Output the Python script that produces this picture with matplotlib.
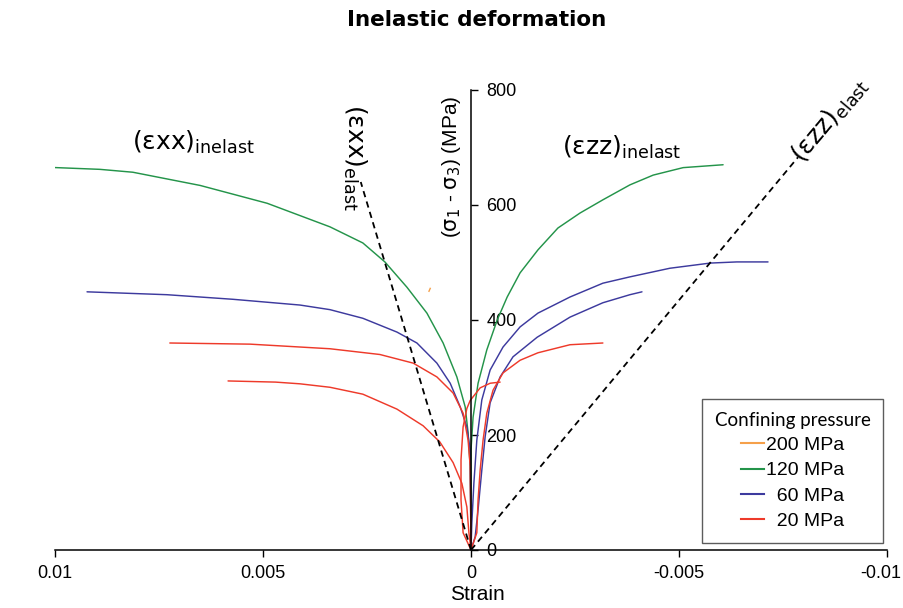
import matplotlib
matplotlib.use("Agg")
import matplotlib.pyplot as plt
from matplotlib.lines import Line2D
from matplotlib.transforms import ScaledTranslation

plt.rcParams["mathtext.fontset"] = "dejavusans"

# ---------------- data (strain, differential stress in MPa) ----------------
# 120 MPa confining pressure
g_xx_strain = [0.01101, 0.00892, 0.00813, 0.00651, 0.0049, 0.00339, 0.0026, 0.00207,
               0.00154, 0.00106, 0.00067, 0.00034, 0.00014, 0.00007, 0.00002, 0.0, 0.0]
g_xx_stress = [668, 662, 657, 634, 603, 562, 534, 501, 457, 412, 360, 301, 249, 204,
               146, 52, 0]
g_zz_strain = [-0.00606, -0.0051, -0.00438, -0.00382, -0.00317, -0.00262, -0.00209,
               -0.00161, -0.00118, -0.00087, -0.00063, -0.00038, -0.00017, -0.00005,
               0.0, 0.0]
g_zz_stress = [670, 665, 652, 635, 609, 586, 560, 522, 482, 440, 400, 348, 290, 231,
               174, 0]

# 60 MPa confining pressure
b_xx_strain = [0.00923, 0.00731, 0.00572, 0.00411, 0.00339, 0.0026, 0.00178, 0.0013,
               0.00082, 0.0005, 0.00026, 0.0001, 0.00002, 0.0]
b_xx_stress = [449, 444, 436, 426, 418, 403, 379, 360, 325, 290, 249, 214, 174, 0]
b1_zz_strain = [-0.00714, -0.00639, -0.00575, -0.00478, -0.00382, -0.00317, -0.00238,
                -0.00161, -0.00118, -0.00077, -0.00046, -0.00026, -0.00014, -0.00007,
                -0.00002, 0.0]
b1_zz_stress = [501, 501, 499, 490, 475, 464, 440, 412, 388, 353, 313, 261, 191, 117,
                47, 0]
b2_zz_strain = [-0.00411, -0.00382, -0.00317, -0.00238, -0.00159, -0.00101, -0.0007,
                -0.00046, -0.00034, -0.00026, -0.00017, -0.0001, 0.0]
b2_zz_stress = [449, 444, 430, 405, 370, 336, 301, 256, 197, 139, 70, 23, 0]

# 20 MPa confining pressure
r1_xx_strain = [0.00724, 0.00531, 0.00339, 0.00219, 0.00139, 0.00082, 0.00043,
                0.00019, 0.00007, 0.00002, 0.0]
r1_xx_stress = [360, 358, 350, 340, 325, 301, 273, 238, 191, 146, 0]
r1_zz_strain = [-0.00317, -0.00238, -0.00161, -0.00118, -0.00077, -0.00053, -0.00038,
                -0.00029, -0.00022, -0.00017, -0.00014, 0.0]
r1_zz_stress = [360, 357, 343, 330, 308, 278, 238, 191, 139, 87, 30, 0]
r2_xx_strain = [0.00584, 0.0047, 0.00411, 0.00339, 0.0026, 0.00178, 0.00115, 0.00075,
                0.00043, 0.00022, 0.0001, 0.00005, 0.0]
r2_xx_stress = [294, 292, 289, 283, 271, 245, 216, 188, 152, 116, 75, 30, 0]
r2_zz_strain = [-0.0007, -0.00046, -0.00022, 0.00002, 0.0001, 0.00019, 0.00024,
                0.00024, 0.00019, 0.0]
r2_zz_stress = [292, 290, 282, 260, 246, 214, 157, 87, 30, 0]

# 200 MPa confining pressure (only a trace visible)
o_strain = [0.00101, 0.00098]
o_stress = [450, 455]

# elastic reference lines
exx_elast_strain = [0.0, 0.00265]
exx_elast_stress = [0, 640]
ezz_elast_strain = [0.0, -0.00786]
ezz_elast_stress = [0, 683]

xticks = [0.01, 0.005, 0, -0.005, -0.01]
xticklabels = ["0.01", "0.005", "0", "-0.005", "-0.01"]
yticks = [0, 200, 400, 600, 800]
legend_labels = ["200 MPa", "120 MPa", "  60 MPa", "  20 MPa"]

C_OR = "#F5A04A"
C_GR = "#24944A"
C_BL = "#3D3A9E"
C_RD = "#EE3A2A"

# ---------------- figure ----------------
W, H = 904, 608
fig = plt.figure(figsize=(W / 100, H / 100), dpi=100)
ax = fig.add_axes([55 / W, (H - 550) / H, (887 - 55) / W, (550 - 90) / H])

kw = dict(lw=1.05, solid_joinstyle="round", solid_capstyle="round")
ax.plot(g_xx_strain, g_xx_stress, color=C_GR, **kw)
ax.plot(g_zz_strain, g_zz_stress, color=C_GR, **kw)
ax.plot(b_xx_strain, b_xx_stress, color=C_BL, **kw)
ax.plot(b1_zz_strain, b1_zz_stress, color=C_BL, **kw)
ax.plot(b2_zz_strain, b2_zz_stress, color=C_BL, **kw)
ax.plot(r1_xx_strain, r1_xx_stress, color=C_RD, **kw)
ax.plot(r1_zz_strain, r1_zz_stress, color=C_RD, **kw)
ax.plot(r2_xx_strain, r2_xx_stress, color=C_RD, **kw)
ax.plot(r2_zz_strain, r2_zz_stress, color=C_RD, **kw)
ax.plot(o_strain, o_stress, color=C_OR, lw=1.0)
ax.plot(exx_elast_strain, exx_elast_stress, color="black", lw=1.3, ls=(0, (3.5, 2.5)))
ax.plot(ezz_elast_strain, ezz_elast_stress, color="black", lw=1.3, ls=(0, (3.5, 2.5)))

ax.set_xlim(0.01, -0.01)
ax.set_ylim(0, 800)

for s in ["top", "left"]:
    ax.spines[s].set_visible(False)
ax.spines["right"].set_position(("data", 0))
ax.spines["right"].set_bounds(0, 800)
ax.spines["bottom"].set_linewidth(1.1)
ax.spines["right"].set_linewidth(1.1)
ax.yaxis.tick_right()
ax.set_yticks(yticks)
ax.set_yticklabels([str(v) for v in yticks])
ax.set_xticks(xticks)
ax.set_xticklabels(xticklabels)
ax.tick_params(axis="both", direction="out", length=5, width=1.0,
               labelsize=13, pad=6)
for lab in ax.get_xticklabels() + ax.get_yticklabels():
    lab.set_fontfamily("Liberation Sans")
last = ax.get_xticklabels()[-1]
last.set_transform(last.get_transform() + ScaledTranslation(-6 / 100, 0, fig.dpi_scale_trans))

ax.patch.set_alpha(0)

# axis labels
fig.text(477 / W, 1 - 594 / H, "Strain", ha="center", va="center",
         fontsize=15, family="Liberation Sans")
ax.text(0.00046, 666, r"($\mathrm{\sigma}_1$ - $\mathrm{\sigma}_3$) (MPa)", rotation=90,
        ha="center", va="center", fontsize=15, family="Liberation Sans")

# title
fig.text(477 / W, 1 - 20 / H, "Inelastic deformation", ha="center", va="center",
         fontsize=15.5, fontweight="bold", family="DejaVu Sans")

# annotations
ax.text(0.00815, 696, r"$(\mathrm{\varepsilon xx})_{\mathrm{inelast}}$", ha="left",
        va="baseline", fontsize=18)
ax.text(-0.00219, 687, r"$(\mathrm{\varepsilon zz})_{\mathrm{inelast}}$", ha="left",
        va="baseline", fontsize=18)
ax.text(0.00279, 776, r"$(\mathrm{\varepsilon xx})_{\mathrm{elast}}$", ha="center",
        va="top", fontsize=18, rotation=-90)
ax.text(-0.00863, 748, r"$(\mathrm{\varepsilon zz})_{\mathrm{elast}}$", ha="center",
        va="center", fontsize=18, rotation=50)

# legend
handles = [Line2D([], [], color=c, lw=1.5) for c in [C_OR, C_GR, C_BL, C_RD]]
leg = fig.legend(handles, legend_labels, title="Confining pressure",
                 loc="upper left", bbox_to_anchor=(702 / W, 1 - 399 / H),
                 frameon=True, fancybox=False, alignment="center",
                 handlelength=1.2, handletextpad=0.1, labelspacing=0.4,
                 borderpad=0.65, borderaxespad=0.0,
                 prop={"family": "Liberation Sans", "size": 14},
                 title_fontproperties={"family": "Lato", "size": 13.5})
leg.get_frame().set_edgecolor("#333333")
leg.get_frame().set_linewidth(1.0)

fig.savefig("out.png", dpi=100)
